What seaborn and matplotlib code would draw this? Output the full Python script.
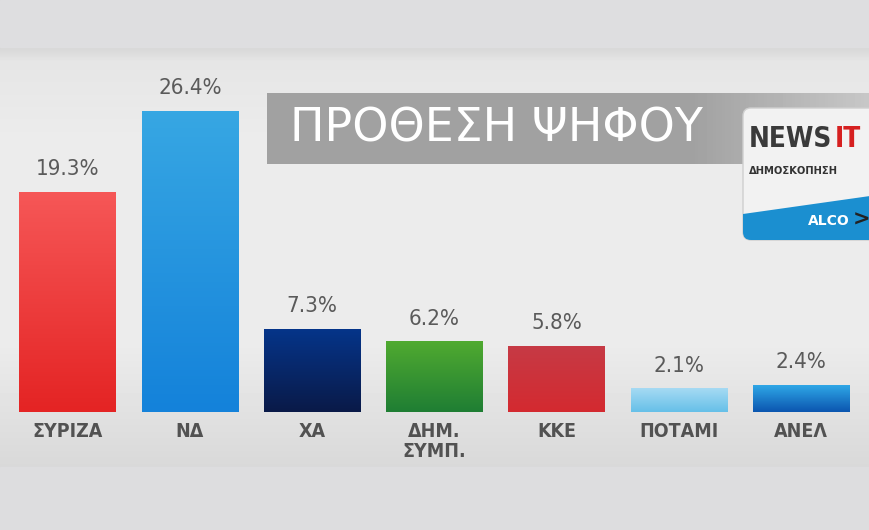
import numpy as np
import pandas as pd
import seaborn as sns
import matplotlib.pyplot as plt
from matplotlib.colors import LinearSegmentedColormap, to_rgb
from matplotlib.patches import Rectangle, FancyBboxPatch, Polygon

# δεδομένα
parties = ['ΣΥΡΙΖΑ', 'ΝΔ', 'ΧΑ', 'ΔΗΜ.\nΣΥΜΠ.', 'ΚΚΕ', 'ΠΟΤΑΜΙ', 'ΑΝΕΛ']
values = [19.3, 26.4, 7.3, 6.2, 5.8, 2.1, 2.4]
top_colors = ['#f65757', '#37a7e3', '#05358a', '#50aa30', '#c63a45', '#a6daf3', '#30a9e8']
bottom_colors = ['#e42424', '#1482da', '#0a1a48', '#1f7e34', '#d42a30', '#66c0e8', '#0b56b0']
title = 'ΠΡΟΘΕΣΗ ΨΗΦΟΥ'

df = pd.DataFrame({'party': parties, 'value': values})

sns.set_theme(style='white')
plt.rcParams['font.family'] = ['DejaVu Sans']

fig = plt.figure(figsize=(8.7, 5.3), dpi=100)
fig.patch.set_facecolor('#dcdcde')

# φόντο σε pixel συντεταγμένες
bg = fig.add_axes([0, 0, 1, 1], zorder=0)
bg.set_xlim(0, 870)
bg.set_ylim(530, 0)
bg.axis('off')
panel = np.concatenate([
    np.linspace(0.84, 0.90, 15),
    np.linspace(0.90, 0.925, 80),
    np.full(200, 0.925),
    np.linspace(0.925, 0.85, 125),
])
bg.imshow(np.repeat(panel[:, None], 2, axis=1), cmap='gray', vmin=0, vmax=1,
          extent=(0, 870, 467, 47), aspect='auto', zorder=0)
bg.add_patch(Rectangle((0, 0), 870, 47, color='#dedee0', zorder=1))
bg.add_patch(Rectangle((0, 467), 870, 63, color='#dddddf', zorder=1))

# πλαίσιο τίτλου
tb = np.concatenate([np.full(140, 0.63), np.linspace(0.63, 0.78, 60)])[None, :]
bg.imshow(tb, cmap='gray', vmin=0, vmax=1, extent=(267, 870, 164, 93),
          aspect='auto', zorder=2)
bg.text(290, 129, title, color='white', fontsize=33, va='center', ha='left',
        zorder=3)

# λογότυπο
logo = FancyBboxPatch((743, 108), 140, 132, boxstyle='round,pad=0,rounding_size=8',
                      facecolor='#f2f2f2', edgecolor='#cfcfcf', lw=1, zorder=4)
bg.add_patch(logo)
band = Polygon([(743, 214), (870, 196), (870, 240), (743, 240)], closed=True,
               facecolor='#1b8fd0', edgecolor='none', zorder=5)
bg.add_patch(band)
band.set_clip_path(logo)
bg.text(749, 139, 'NEWS', color='#3a3a3a', fontsize=20, fontweight='bold',
        fontstretch='condensed', va='center', ha='left', zorder=6)
bg.text(835, 139, 'IT', color='#d62020', fontsize=20, fontweight='bold',
        fontstretch='condensed', va='center', ha='left', zorder=6)
bg.text(749, 171, 'ΔΗΜΟΣΚΟΠΗΣΗ', color='#333333', fontsize=8,
        fontweight='bold', fontstretch='condensed', va='center', ha='left',
        zorder=6)
bg.text(850, 221, 'ALCO', color='white', fontsize=10, fontweight='bold',
        va='center', ha='right', zorder=6)
bg.text(853, 220, '>', color='#222222', fontsize=15, fontweight='bold',
        va='center', ha='left', zorder=6)

# ραβδόγραμμα
ax = fig.add_axes([6.5 / 870, 118 / 530, 856 / 870, 365 / 530], zorder=2)
ax.patch.set_alpha(0)
sns.barplot(data=df, x='party', y='value', hue='party', palette=top_colors,
            legend=False, width=0.79, ax=ax, saturation=1)
ax.set_xlim(-0.5, 6.5)
ax.set_ylim(0, 32)

for bar, c1, c2, v in zip(ax.patches, top_colors, bottom_colors, values):
    x0, w, h = bar.get_x(), bar.get_width(), bar.get_height()
    cmap = LinearSegmentedColormap.from_list('g', [to_rgb(c2), to_rgb(c1)])
    grad = np.linspace(0, 1, 100)[:, None]
    im = ax.imshow(grad, cmap=cmap, extent=(x0, x0 + w, 0, h), origin='lower',
                   aspect='auto', zorder=3)
    im.set_clip_path(bar)
    bar.set_edgecolor('none')
    ax.annotate(f'{v}%', (x0 + w / 2, h), xytext=(0, 9), textcoords='offset points',
                ha='center', va='bottom', fontsize=16, color='#5a5a5a',
                fontstretch='condensed')

ax.set_xlabel('')
ax.set_ylabel('')
ax.set_yticks([])
ax.tick_params(axis='x', length=0, pad=7)
for lab in ax.get_xticklabels():
    lab.set_fontsize(14)
    lab.set_fontweight('bold')
    lab.set_color('#525252')
    lab.set_fontstretch('condensed')
    lab.set_linespacing(1.1)
sns.despine(ax=ax, left=True, bottom=True)

fig.savefig('out.png', dpi=100, facecolor=fig.get_facecolor())
